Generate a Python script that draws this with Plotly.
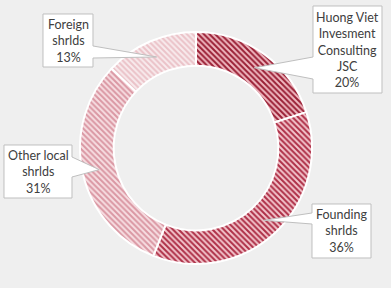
import math
import plotly.graph_objects as go

# ---- data ----
labels = ["Huong Viet<br>Invesment<br>Consulting<br>JSC", "Founding<br>shrlds", "Other local<br>shrlds", "Foreign<br>shrlds"]
values = [20, 36, 31, 13]

# ---- styles ----
bg_colors = ["#F0B9C1", "#F3C6CD", "#F7DEE2", "#F8EBED"]
fg_colors = ["#9A1F35", "#AE2F47", "#DA97A3", "#EBC2C8"]

W, H = 391, 288
cx, cy, R_out = 196, 148, 116
hole = 0.71

# label box layout (pixels: x0, x1, top, bottom) and tail base (top, bottom)
boxes = [(313, 382, 6, 93), (312, 371, 204, 258), (4, 72, 145, 198), (43, 93, 14, 67)]
bases = [(57, 79), (213, 224), (157, 177), (46, 58)]

def px(x):
    return x / W

def py(y):
    return 1 - y / H

fig = go.Figure()
fig.add_trace(go.Pie(
    labels=labels, values=values, sort=False, direction="clockwise", rotation=0,
    hole=hole, textinfo="none", showlegend=False,
    domain=dict(x=[px(cx - R_out), px(cx + R_out)], y=[py(cy + R_out), py(cy - R_out)]),
    marker=dict(colors=bg_colors, line=dict(color="white", width=2),
                pattern=dict(shape="\\", fgcolor=fg_colors, bgcolor=bg_colors, size=4, solidity=0.5)),
))

total = sum(values)
r_mid = R_out * (1 + hole) / 2
cum = 0
shapes = []
annotations = []
for i, v in enumerate(values):
    mid = (cum + v / 2) / total * 2 * math.pi
    cum += v
    tx = cx + r_mid * math.sin(mid)
    ty = cy - r_mid * math.cos(mid)
    x0, x1, t, b = boxes[i]
    bt, bb = bases[i]
    if x0 > tx:
        pts = [(x0, t), (x1, t), (x1, b), (x0, b), (x0, bb), (tx, ty), (x0, bt)]
    else:
        pts = [(x0, t), (x1, t), (x1, bt), (tx, ty), (x1, bb), (x1, b), (x0, b)]
    path = "M " + " L ".join(f"{px(a):.5f},{py(c):.5f}" for a, c in pts) + " Z"
    shapes.append(dict(type="path", path=path, xref="paper", yref="paper",
                       fillcolor="white", line=dict(color="#BFBFBF", width=1), layer="above"))
    pct = round(v / total * 100)
    annotations.append(dict(x=px((x0 + x1) / 2), y=py((t + b) / 2), xref="paper", yref="paper",
                            text=f"{labels[i]}<br>{pct}%", showarrow=False, align="center",
                            xanchor="center", yanchor="middle",
                            font=dict(family="Lato", size=12.5, color="#404040")))

fig.update_layout(
    width=W, height=H, autosize=False,
    margin=dict(l=0, r=0, t=0, b=0),
    paper_bgcolor="#EFEFEF", plot_bgcolor="#EFEFEF",
    shapes=shapes, annotations=annotations,
)
fig.write_html("out.html")
